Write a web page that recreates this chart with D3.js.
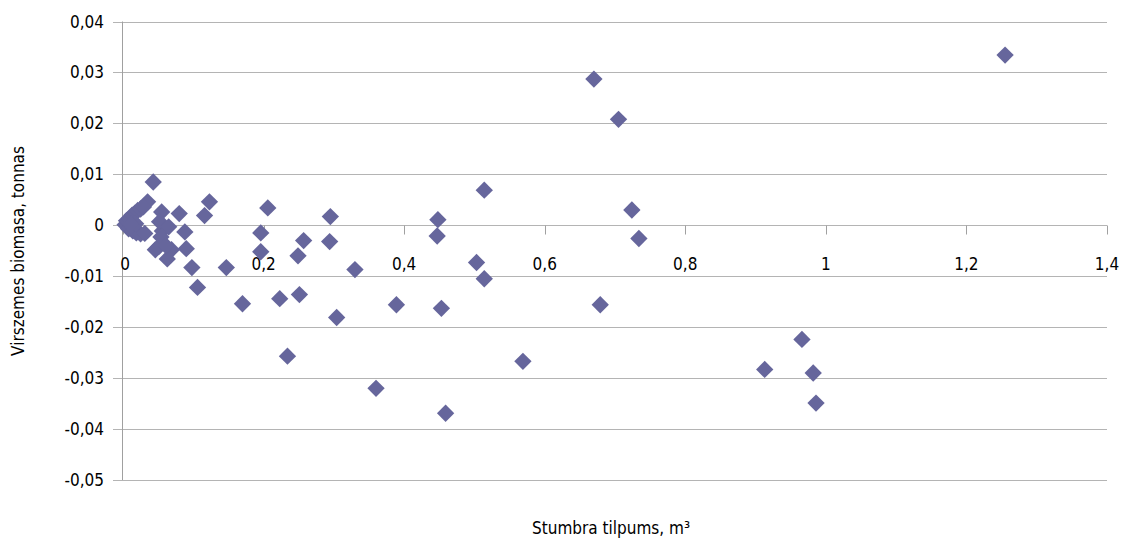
<!DOCTYPE html>
<html><head><meta charset="utf-8">
<script src="https://cdn.jsdelivr.net/npm/d3@7"></script>
<style>
body{margin:0;background:#fff;}
text{font-family:'DejaVu Sans',sans-serif;font-stretch:condensed;fill:#000;}
</style></head>
<body><svg id="c" width="1123" height="541"></svg>
<script>
// Data (x: stem volume m³, y: above-ground biomass residual, t)
const xValues = [
 1.255,0.670,0.705,0.724,0.734,0.679,0.569,0.514,0.514,0.503,
 0.448,0.447,0.453,0.459,0.389,0.360,0.330,0.304,0.295,0.294,
 0.257,0.249,0.251,0.234,0.223,0.206,0.196,0.196,0.170,0.147,
 0.123,0.116,0.106,0.098,0.090,0.080,0.069,0.063,0.056,0.055,
 0.051,0.052,0.046,0.043,0.035,0.913,0.966,0.982,0.986,
 0.003,0.005,0.009,0.013,0.017,0.021,0.025,0.029,0.008,0.014,
 0.019,0.025,0.031,0.018,0.011,0.054,0.065,0.061,0.088
];
const yValues = [
 0.0334,0.0287,0.0208,0.0030,-0.0026,-0.0156,-0.0267,0.0069,-0.0105,-0.0073,
 0.0011,-0.0021,-0.0163,-0.0369,-0.0156,-0.0320,-0.0087,-0.0181,0.0017,-0.0032,
 -0.0030,-0.0060,-0.0136,-0.0257,-0.0144,0.0034,-0.0015,-0.0052,-0.0154,-0.0083,
 0.0046,0.0019,-0.0122,-0.0083,-0.0046,0.0023,-0.0048,-0.0066,-0.0011,0.0026,
 -0.0042,0.0007,-0.0048,0.0085,0.0046,-0.0283,-0.0224,-0.0290,-0.0349,
 0.0001,0.0009,0.0013,0.0020,0.0024,0.0029,0.0032,0.0036,-0.0007,-0.0011,
 -0.0015,-0.0017,-0.0016,0.0003,0.0002,-0.0023,-0.0003,-0.0040,-0.0013
];
const xTicks = [0,0.2,0.4,0.6,0.8,1,1.2,1.4];
const yTicks = [0.04,0.03,0.02,0.01,0,-0.01,-0.02,-0.03,-0.04,-0.05];
const xTitle = "Stumbra tilpums, m³";
const yTitle = "Virszemes biomasa, tonnas";

const svg = d3.select("#c");
const L = 123, R = 1107, T = 21.5, B = 480;
const x = d3.scaleLinear().domain([0,1.4]).range([L,R]);
const y = d3.scaleLinear().domain([-0.05,0.04]).range([B,T]);
const fmt = v => {
  if (v === 0) return "0";
  const s = String(+v.toFixed(2)).replace(".", ",");
  return s.replace(/^0,/, "0,").replace(/^-/, "-");
};

// gridlines
svg.append("g").selectAll("line").data(yTicks).join("line")
  .attr("x1", L - 10).attr("x2", R)
  .attr("y1", d => Math.round(y(d)) + 0.5).attr("y2", d => Math.round(y(d)) + 0.5)
  .attr("stroke", "#b4b4b4").attr("stroke-width", 1.2);

// y axis line
svg.append("line").attr("x1", L - 0.5).attr("x2", L - 0.5).attr("y1", y(0.04)).attr("y2", y(-0.05))
  .attr("stroke", "#a0a0a0").attr("stroke-width", 1);

// y tick labels
svg.append("g").selectAll("text").data(yTicks).join("text")
  .attr("x", 104).attr("y", d => y(d) + 6)
  .attr("text-anchor", "end").style("font-size", "17px")
  .text(d => fmt(d));

// x axis ticks on zero line
const y0 = Math.round(y(0)) + 0.5;
svg.append("g").selectAll("line").data(xTicks).join("line")
  .attr("x1", d => Math.round(x(d)) + 0.5).attr("x2", d => Math.round(x(d)) + 0.5)
  .attr("y1", y0).attr("y2", y0 + 9)
  .attr("stroke", "#a0a0a0").attr("stroke-width", 1);
svg.append("g").selectAll("text").data(xTicks).join("text")
  .attr("x", d => x(d) + (d === 0 ? 2 : 0)).attr("y", 270)
  .attr("text-anchor", "middle").style("font-size", "17px")
  .text(d => fmt(d));

// markers
const pts = xValues.map((v, i) => [v, yValues[i]]);
const sym = d3.symbol().type(d3.symbolSquare).size(150);
svg.append("g").selectAll("path").data(pts).join("path")
  .attr("d", sym)
  .attr("transform", d => `translate(${x(d[0])},${y(d[1])}) rotate(45)`)
  .attr("fill", "#66669c");

// titles
svg.append("text").attr("x", 611).attr("y", 534).attr("text-anchor", "middle")
  .style("font-size", "17px").text(xTitle);
svg.append("text").attr("transform", "translate(24,251) rotate(-90)").attr("text-anchor", "middle")
  .style("font-size", "17px").text(yTitle);
</script></body></html>
